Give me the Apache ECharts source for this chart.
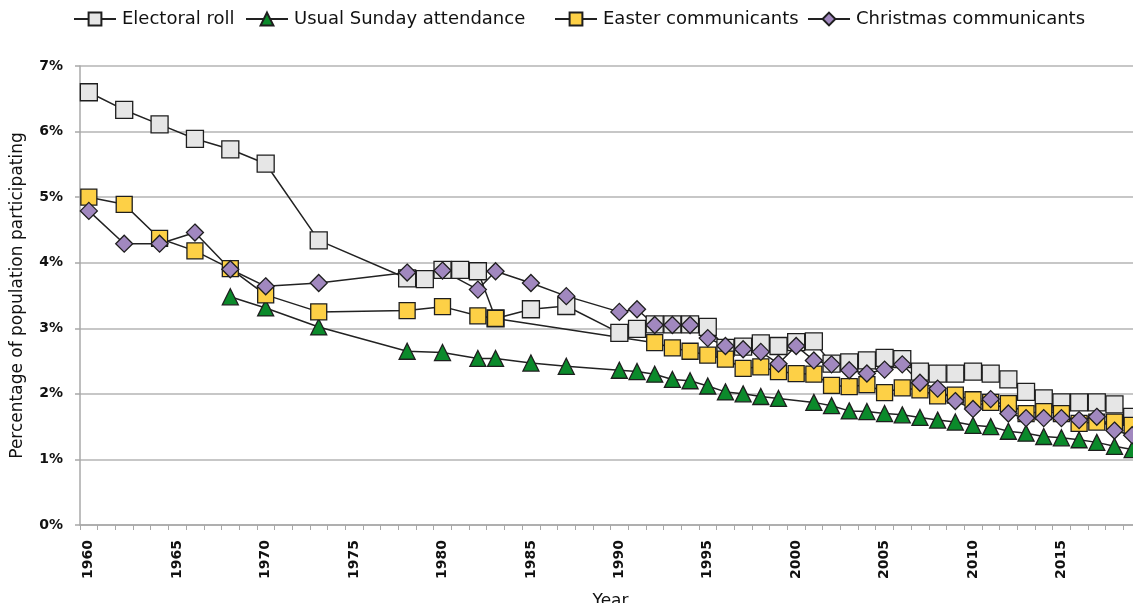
<!DOCTYPE html>
<html>
<head>
<meta charset="utf-8">
<script src="https://cdn.jsdelivr.net/npm/echarts@6/dist/echarts.min.js"></script>
<style>
html,body{margin:0;padding:0;background:#fff;}
#chart{width:1133px;height:603px;}
</style>
</head>
<body>
<div id="chart"></div>
<script>
const years = [];
for (let y = 1960; y <= 2019; y++) years.push(String(y));

const seriesNames = ['Electoral roll', 'Usual Sunday attendance', 'Easter communicants', 'Christmas communicants'];

// values in percent, keyed by year (missing years omitted)
const electoralRoll = {
  1960: 6.60, 1962: 6.33, 1964: 6.11, 1966: 5.89, 1968: 5.73, 1970: 5.51, 1973: 4.34,
  1978: 3.76, 1979: 3.75, 1980: 3.89, 1981: 3.89, 1982: 3.87, 1983: 3.15, 1985: 3.29, 1987: 3.34,
  1990: 2.93, 1991: 2.99, 1992: 3.06, 1993: 3.06, 1994: 3.06, 1995: 3.02, 1996: 2.70, 1997: 2.72,
  1998: 2.77, 1999: 2.73, 2000: 2.79, 2001: 2.80, 2002: 2.46, 2003: 2.48, 2004: 2.51, 2005: 2.55,
  2006: 2.53, 2007: 2.34, 2008: 2.31, 2009: 2.31, 2010: 2.34, 2011: 2.31, 2012: 2.22, 2013: 2.03,
  2014: 1.93, 2015: 1.87, 2016: 1.87, 2017: 1.87, 2018: 1.84, 2019: 1.65
};
const sundayAttendance = {
  1968: 3.48, 1970: 3.31, 1973: 3.02, 1978: 2.65, 1980: 2.63, 1982: 2.54, 1983: 2.54, 1985: 2.47,
  1987: 2.42, 1990: 2.36, 1991: 2.34, 1992: 2.30, 1993: 2.22, 1994: 2.20, 1995: 2.12, 1996: 2.03,
  1997: 2.00, 1998: 1.96, 1999: 1.93, 2001: 1.87, 2002: 1.82, 2003: 1.74, 2004: 1.73, 2005: 1.70,
  2006: 1.68, 2007: 1.64, 2008: 1.60, 2009: 1.57, 2010: 1.52, 2011: 1.50, 2012: 1.43, 2013: 1.40,
  2014: 1.35, 2015: 1.33, 2016: 1.30, 2017: 1.26, 2018: 1.20, 2019: 1.15
};
const easterCommunicants = {
  1960: 5.00, 1962: 4.89, 1964: 4.37, 1966: 4.18, 1968: 3.91, 1970: 3.51, 1973: 3.25,
  1978: 3.27, 1980: 3.33, 1982: 3.19, 1983: 3.15, 1992: 2.78, 1993: 2.70, 1994: 2.65, 1995: 2.59,
  1996: 2.53, 1997: 2.39, 1998: 2.41, 1999: 2.34, 2000: 2.31, 2001: 2.30, 2002: 2.13, 2003: 2.11,
  2004: 2.14, 2005: 2.02, 2006: 2.09, 2007: 2.06, 2008: 1.97, 2009: 1.98, 2010: 1.91, 2011: 1.87,
  2012: 1.85, 2013: 1.70, 2014: 1.73, 2015: 1.70, 2016: 1.55, 2017: 1.57, 2018: 1.57, 2019: 1.52
};
const christmasCommunicants = {
  1960: 4.79, 1962: 4.29, 1964: 4.29, 1966: 4.46, 1968: 3.90, 1970: 3.64, 1973: 3.69,
  1978: 3.85, 1980: 3.88, 1982: 3.59, 1983: 3.87, 1985: 3.69, 1987: 3.49, 1990: 3.25, 1991: 3.29,
  1992: 3.05, 1993: 3.05, 1994: 3.05, 1995: 2.85, 1996: 2.73, 1997: 2.68, 1998: 2.64, 1999: 2.46,
  2000: 2.73, 2001: 2.51, 2002: 2.45, 2003: 2.36, 2004: 2.31, 2005: 2.37, 2006: 2.45, 2007: 2.17,
  2008: 2.08, 2009: 1.89, 2010: 1.77, 2011: 1.92, 2012: 1.70, 2013: 1.63, 2014: 1.63, 2015: 1.63,
  2016: 1.60, 2017: 1.65, 2018: 1.44, 2019: 1.37
};

const yTicks = [0, 1, 2, 3, 4, 5, 6, 7];

function toArr(obj) { return years.map(y => (obj[y] !== undefined ? obj[y] : null)); }

const FONT = 'DejaVu Sans';
const lineColor = '#222222';

function mk(name, data, symbol, size, fill) {
  return {
    name: name,
    type: 'line',
    data: toArr(data),
    connectNulls: true,
    symbol: symbol,
    symbolSize: size,
    showAllSymbol: true,
    lineStyle: { color: lineColor, width: 1.5 },
    itemStyle: { color: fill, borderColor: '#1e1e1e', borderWidth: 1.3 },
    emphasis: { disabled: true },
    animation: false
  };
}

const chart = echarts.init(document.getElementById('chart'), null, { renderer: 'canvas' });

const legendPos = [68, 240, 549, 802];
const legends = seriesNames.map((n, i) => ({
  data: [n],
  left: legendPos[i],
  top: 5,
  itemWidth: 42,
  itemHeight: 16,
  itemGap: 0,
  textStyle: { fontFamily: FONT, fontSize: 18, color: '#111', padding: [0, 0, 0, 1] },
  selectedMode: false
}));

chart.setOption({
  backgroundColor: '#ffffff',
  animation: false,
  legend: legends,
  grid: { left: 80, top: 66, width: 1061, height: 459, containLabel: false, outerBoundsMode: 'none' },
  xAxis: {
    type: 'category',
    data: years,
    boundaryGap: true,
    name: 'Year',
    nameLocation: 'middle',
    nameGap: 68,
    nameTextStyle: { fontFamily: FONT, fontSize: 17, color: '#111' },
    axisLine: { lineStyle: { color: '#a8a8a8', width: 1.5 } },
    axisTick: { show: true, interval: 0, length: 5, lineStyle: { color: '#a8a8a8', width: 1 } },
    axisLabel: {
      interval: 4,
      rotate: 90,
      margin: 15,
      fontFamily: FONT,
      fontSize: 14,
      fontWeight: 'bold',
      color: '#111'
    },
    splitLine: { show: false }
  },
  yAxis: {
    type: 'value',
    min: yTicks[0],
    max: yTicks[yTicks.length - 1],
    interval: 1,
    name: 'Percentage of population participating',
    nameLocation: 'middle',
    nameGap: 54,
    nameTextStyle: { fontFamily: FONT, fontSize: 17, color: '#111' },
    axisLine: { show: true, lineStyle: { color: '#a8a8a8', width: 1.5 } },
    axisTick: { show: true, length: 5, lineStyle: { color: '#a8a8a8', width: 1.5 } },
    axisLabel: {
      formatter: '{value}%',
      margin: 17,
      fontFamily: FONT,
      fontSize: 14,
      fontWeight: 'bold',
      color: '#111'
    },
    splitLine: { show: true, lineStyle: { color: '#b4b4b4', width: 1.5 } }
  },
  series: [
    mk(seriesNames[0], electoralRoll, 'rect', 17, '#e6e6e6'),
    mk(seriesNames[1], sundayAttendance, 'triangle', 16, '#0b8a2b'),
    mk(seriesNames[2], easterCommunicants, 'rect', 16, '#fdd046'),
    mk(seriesNames[3], christmasCommunicants, 'diamond', 17, '#a188bf')
  ]
});
</script>
</body>
</html>
